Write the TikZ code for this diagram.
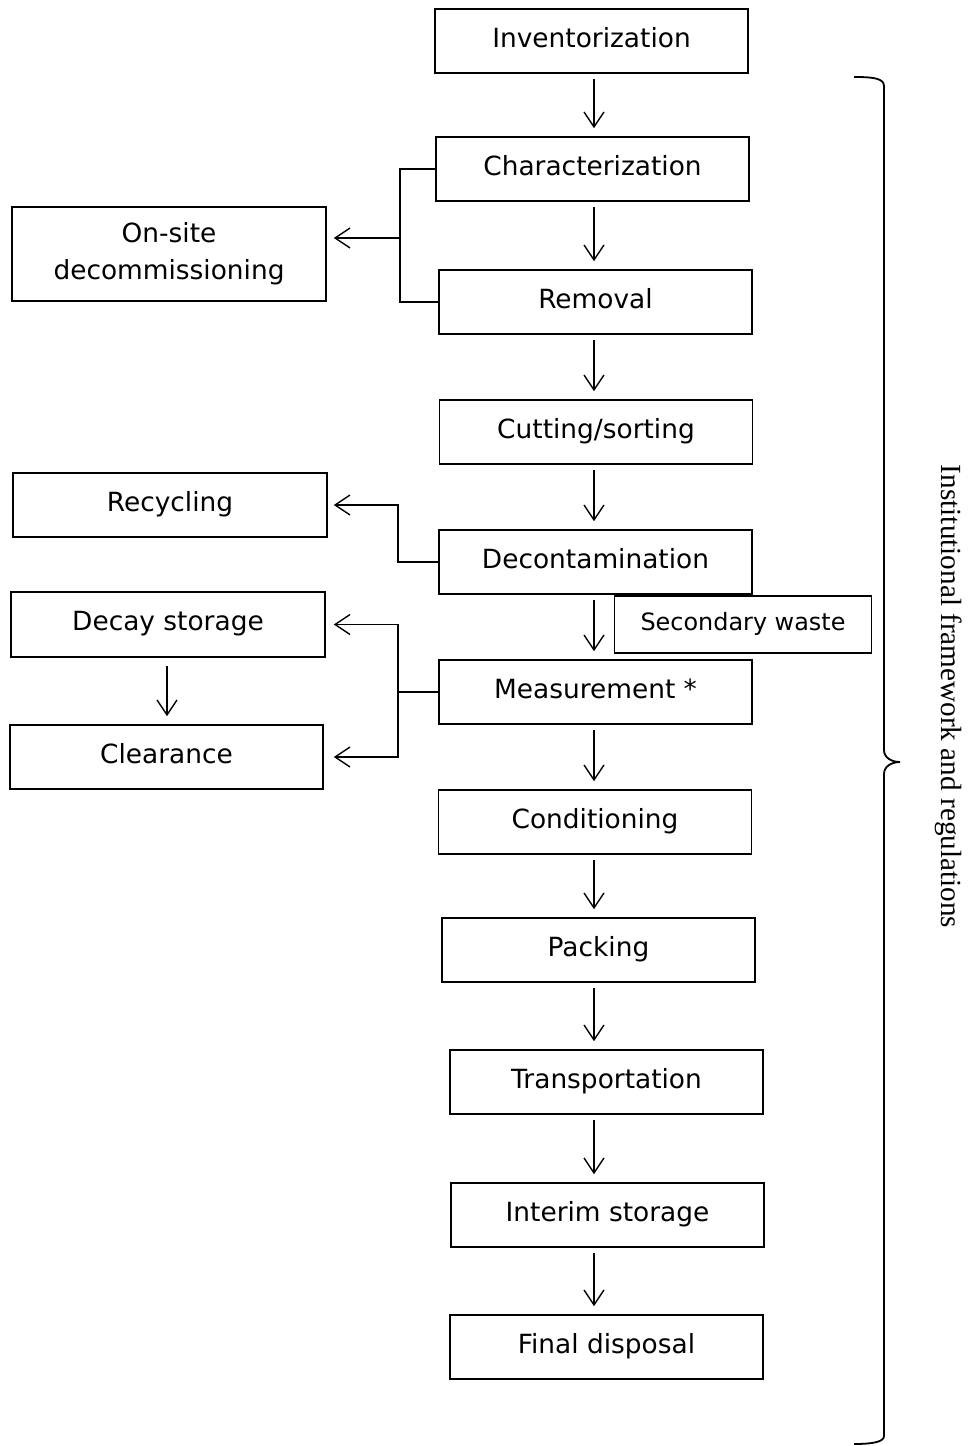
\documentclass[tikz,border=0pt]{standalone}
\usepackage{fontspec}
\setmainfont{DejaVu Sans}
\newfontfamily\brfont{Liberation Serif}
\usetikzlibrary{arrows.meta}
\begin{document}
\begin{tikzpicture}[x=1pt,y=-1pt,
  box/.style={draw, line width=1.6pt, fill=white, inner sep=0pt,
    minimum width=313pt, minimum height=64pt, font=\fontsize{26.4}{37}\selectfont},
  oneline/.style={text height=19.8pt, text depth=7pt},
  conn/.style={line width=1.4pt},
  arr/.style={conn, -{Straight Barb[length=15pt,width=20pt]}},
]
\useasboundingbox (0,0) rectangle (967,1446);

% main column
\node[box,oneline] (inv)   at (591.5,41)   {Inventorization};
\node[box,oneline] (char)  at (592.5,169)  {Characterization};
\node[box,oneline] (rem)   at (595.5,302)  {Removal};
\node[box,oneline] (cut)   at (596,432)    {Cutting/sorting};
\node[box,oneline] (dec)   at (595.5,562)  {Decontamination};
\node[box,oneline] (meas)  at (595.5,692)  {Measurement *};
\node[box,oneline] (cond)  at (595,822)    {Conditioning};
\node[box,oneline] (pack)  at (598.5,950)  {Packing};
\node[box,oneline] (trans) at (606.5,1082) {Transportation};
\node[box,oneline] (inter) at (607.5,1215) {Interim storage};
\node[box,oneline] (fin)   at (606.5,1347) {Final disposal};

% side boxes
\node[box,minimum width=314pt,minimum height=94pt,align=center] (on) at (169,254) {On-site\\decommissioning};
\node[box,oneline,minimum width=314pt] (rec)   at (170,505)   {Recycling};
\node[box,oneline,minimum width=314pt,minimum height=65pt] (decay) at (168,624.5) {Decay storage};
\node[box,oneline] (clear) at (166.5,757) {Clearance};
\node[box,minimum width=257pt,minimum height=57pt,font=\fontsize{23.9}{30}\selectfont,
      text height=18pt,text depth=6pt] (sec) at (743,624.5) {Secondary waste};

% main arrows
\coordinate (ax) at (594,0);
\foreach \a/\b in {inv/char,char/rem,rem/cut,cut/dec,dec/meas,meas/cond,cond/pack,pack/trans,trans/inter,inter/fin}{
  \draw[arr, shorten <=5pt, shorten >=8pt] (\a.south -| ax) -- (\b.north -| ax);
}

% on-site branch
\coordinate (j1) at (400,238);
\draw[conn] (char.west) -- (char.west -| j1) -- (rem.west -| j1) -- (rem.west);
\draw[arr, shorten >=7pt] (j1) -- (j1 -| on.east);

% recycling branch
\coordinate (j2) at (398,505);
\draw[arr, shorten >=6pt] (dec.west) -- (dec.west -| j2) -- (j2) -- (rec.east);

% measurement branch
\coordinate (j3) at (398,692);
\draw[conn] (meas.west) -- (j3);
\draw[arr, shorten >=8pt] (j3) -- (j3 |- decay.east) -- (decay.east);
\draw[arr, shorten >=10pt] (j3) -- (j3 |- clear.east) -- (clear.east);
\coordinate (dx) at (167,0);
\draw[arr, shorten <=8pt, shorten >=8pt] (decay.south -| dx) -- (clear.north -| dx);

% brace
\draw[line width=1.8pt]
  (854,77) .. controls (872,77) and (884,78) .. (884,86)
  -- (884,750) .. controls (884,758) and (892,762) .. (900,762)
  .. controls (892,762) and (884,766) .. (884,774)
  -- (884,1436) .. controls (884,1442) and (872,1444) .. (854,1444);
\node[rotate=-90, anchor=base, inner sep=0pt, font=\brfont\fontsize{29.2}{35}\selectfont]
  (lab) at (941,696.5) {Institutional framework and regulations};
\end{tikzpicture}
\end{document}
